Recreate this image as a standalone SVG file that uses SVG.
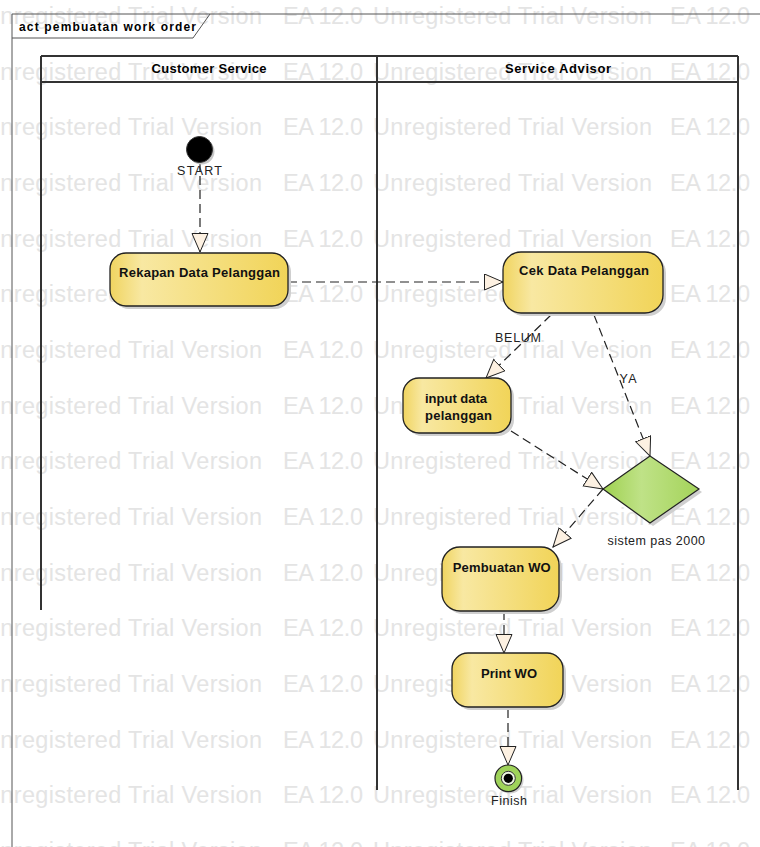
<svg xmlns="http://www.w3.org/2000/svg" xmlns:xlink="http://www.w3.org/1999/xlink" width="760" height="847" viewBox="0 0 760 847">
<style>
.wm{font-family:"Liberation Sans",Arial,sans-serif;font-size:23.5px;fill:#e4e4e4}
.frame{fill:none;stroke:#555;stroke-width:1}
.lane{fill:none;stroke:#333;stroke-width:2}
.hdr{font-family:"Liberation Sans",Arial,sans-serif;font-size:13px;font-weight:bold;fill:#000;text-anchor:middle}
.act{fill:url(#yg);stroke:#222;stroke-width:1.3}
.shadow{fill:#cfcfcf}
.nt{font-family:"Liberation Sans",Arial,sans-serif;font-size:13px;font-weight:bold;fill:#111;text-anchor:middle}
.lbl{font-family:"Liberation Sans",Arial,sans-serif;font-size:12.5px;fill:#222;text-anchor:middle}
.conn{fill:none;stroke:#222;stroke-width:1.2;stroke-dasharray:9,5}
</style>
<defs>
<linearGradient id="yg" x1="0" y1="0" x2="1" y2="0">
<stop offset="0" stop-color="#f0d460"/>
<stop offset="0.18" stop-color="#f8e8a2"/>
<stop offset="1" stop-color="#f1d458"/>
</linearGradient>
<linearGradient id="gg" x1="0" y1="0" x2="1" y2="0">
<stop offset="0" stop-color="#9fd150"/>
<stop offset="0.4" stop-color="#bfe287"/>
<stop offset="1" stop-color="#a4d35a"/>
</linearGradient>
<marker id="ah" markerUnits="userSpaceOnUse" markerWidth="22" markerHeight="20" refX="19" refY="8.5" orient="auto" viewBox="0 0 22 20">
<path d="M0.5,0.5 L19,8.5 L0.5,16.5 Z" fill="#fdf1e2" stroke="#222" stroke-width="1" stroke-dasharray="none"/>
</marker>
<g id="wmrow">
<text class="wm" x="-17" textLength="279" lengthAdjust="spacing">Unregistered Trial Version</text>
<text class="wm" x="283" textLength="80" lengthAdjust="spacing">EA 12.0</text>
<text class="wm" x="373" textLength="279" lengthAdjust="spacing">Unregistered Trial Version</text>
<text class="wm" x="670" textLength="80" lengthAdjust="spacing">EA 12.0</text>
</g>
</defs>
<rect width="760" height="847" fill="#fff"/>
<g id="watermark">
<use xlink:href="#wmrow" y="24"/>
<use xlink:href="#wmrow" y="79.7"/>
<use xlink:href="#wmrow" y="135.3"/>
<use xlink:href="#wmrow" y="191"/>
<use xlink:href="#wmrow" y="246.7"/>
<use xlink:href="#wmrow" y="302.3"/>
<use xlink:href="#wmrow" y="358"/>
<use xlink:href="#wmrow" y="413.7"/>
<use xlink:href="#wmrow" y="469.3"/>
<use xlink:href="#wmrow" y="525"/>
<use xlink:href="#wmrow" y="580.7"/>
<use xlink:href="#wmrow" y="636.3"/>
<use xlink:href="#wmrow" y="692"/>
<use xlink:href="#wmrow" y="747.7"/>
<use xlink:href="#wmrow" y="803.3"/>
<use xlink:href="#wmrow" y="859"/>
</g>
<g id="frame">
<line class="frame" x1="12" y1="14" x2="760" y2="14"/>
<line class="frame" x1="12" y1="14" x2="12" y2="847"/>
<polyline class="frame" points="12,38 193,38 210,14"/>
<text x="19" y="31" font-family="'Liberation Sans',Arial,sans-serif" font-size="12px" font-weight="bold" fill="#000" textLength="177" lengthAdjust="spacing">act pembuatan work order</text>
</g>
<g id="lanes">
<line class="lane" x1="41" y1="56" x2="738" y2="56"/>
<line class="lane" x1="41" y1="82" x2="738" y2="82"/>
<line class="lane" x1="41" y1="56" x2="41" y2="610"/>
<line class="lane" x1="377" y1="56" x2="377" y2="790"/>
<line class="lane" x1="738" y1="56" x2="738" y2="790"/>
<text class="hdr" x="209" y="73" textLength="115" lengthAdjust="spacing">Customer Service</text>
<text class="hdr" x="558" y="73" textLength="106" lengthAdjust="spacing">Service Advisor</text>
</g>
<g id="connectors">
<line class="conn" x1="200" y1="162" x2="200" y2="252" marker-end="url(#ah)"/>
<line class="conn" x1="288" y1="282" x2="503" y2="282" marker-end="url(#ah)"/>
<line class="conn" x1="551" y1="315" x2="486" y2="378" marker-end="url(#ah)"/>
<line class="conn" x1="594" y1="315" x2="650" y2="456" marker-end="url(#ah)"/>
<line class="conn" x1="511" y1="431" x2="603" y2="489" marker-end="url(#ah)"/>
<line class="conn" x1="603" y1="489" x2="553" y2="547" marker-end="url(#ah)"/>
<line class="conn" x1="504" y1="611" x2="504" y2="653" marker-end="url(#ah)"/>
<line class="conn" x1="508" y1="709" x2="508" y2="765" marker-end="url(#ah)"/>
<text class="lbl" x="518" y="342" textLength="46" lengthAdjust="spacing">BELUM</text>
<text class="lbl" x="628" y="383" textLength="17" lengthAdjust="spacing">YA</text>
</g>
<g id="start">
<circle cx="201.5" cy="151.5" r="13" fill="#c8c8c8"/>
<circle cx="199.5" cy="149.5" r="13" fill="#000" stroke="#333" stroke-width="1"/>
<text class="lbl" x="199.5" y="175" textLength="45" lengthAdjust="spacing">START</text>
</g>
<g id="rekapan">
<rect class="shadow" x="113" y="256" width="178" height="53" rx="16"/>
<rect class="act" x="110" y="253" width="178" height="53" rx="16"/>
<text class="nt" x="199.5" y="277" textLength="161" lengthAdjust="spacing">Rekapan Data Pelanggan</text>
</g>
<g id="cek">
<rect class="shadow" x="506" y="255" width="160" height="61" rx="18"/>
<rect class="act" x="503" y="252" width="160" height="61" rx="18"/>
<text class="nt" x="584" y="275" textLength="130" lengthAdjust="spacing">Cek Data Pelanggan</text>
</g>
<g id="input">
<rect class="shadow" x="406" y="381" width="108" height="55" rx="16"/>
<rect class="act" x="403" y="378" width="108" height="55" rx="16"/>
<text class="nt" x="456" y="403" textLength="62" lengthAdjust="spacing">input data</text>
<text class="nt" x="458.5" y="419.5" textLength="67" lengthAdjust="spacing">pelanggan</text>
</g>
<g id="decision">
<polygon points="653,459 702,492 653,526 606,492" fill="#cfcfcf"/>
<polygon points="650,456 699,489 650,523 603,489" fill="url(#gg)" stroke="#222" stroke-width="1.2"/>
<text x="607.5" y="545" font-family="'Liberation Sans',Arial,sans-serif" font-size="12.5px" fill="#222" textLength="97.5" lengthAdjust="spacing">sistem pas 2000</text>
</g>
<g id="pembuatan">
<rect class="shadow" x="445" y="550" width="117" height="64" rx="18"/>
<rect class="act" x="442" y="547" width="117" height="64" rx="18"/>
<text class="nt" x="501.7" y="572" textLength="98" lengthAdjust="spacing">Pembuatan WO</text>
</g>
<g id="print">
<rect class="shadow" x="455" y="656" width="111" height="54" rx="16"/>
<rect class="act" x="452" y="653" width="111" height="54" rx="16"/>
<text class="nt" x="509" y="677.5" textLength="56" lengthAdjust="spacing">Print WO</text>
</g>
<g id="finish">
<circle cx="510" cy="780" r="13.5" fill="#cfcfcf"/>
<circle cx="508.3" cy="778.3" r="13.3" fill="#9fd35a" stroke="#222" stroke-width="1.2"/>
<circle cx="508.3" cy="778.3" r="7" fill="#eef6e2" stroke="#333" stroke-width="1"/>
<circle cx="508.3" cy="778.3" r="4.6" fill="#000"/>
<text class="lbl" x="509" y="805" textLength="36" lengthAdjust="spacing">Finish</text>
</g>
</svg>
